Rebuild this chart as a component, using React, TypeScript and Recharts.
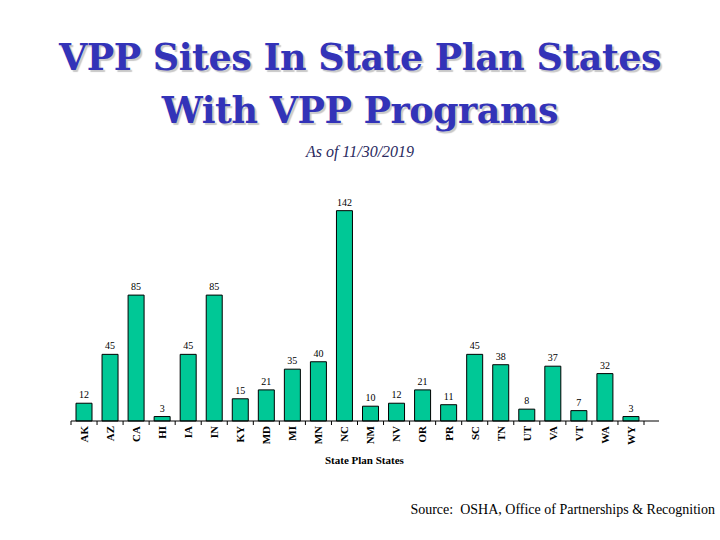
import { BarChart, Bar, XAxis, YAxis, LabelList } from 'recharts';

const states = ['AK', 'AZ', 'CA', 'HI', 'IA', 'IN', 'KY', 'MD', 'MI', 'MN', 'NC', 'NM', 'NV', 'OR', 'PR', 'SC', 'TN', 'UT', 'VA', 'VT', 'WA', 'WY'];
const sites = [12, 45, 85, 3, 45, 85, 15, 21, 35, 40, 142, 10, 12, 21, 11, 45, 38, 8, 37, 7, 32, 3];

const data = states.map((s, i) => ({ name: s, value: sites[i] }));

const SERIF = "'Liberation Serif', 'Times New Roman', serif";
const TITLE_FONT = "'DejaVu Serif', serif";

// plot area: x 71..659 with 15px right padding on the category axis
const PLOT_LEFT = 71;
const PLOT_RIGHT = 61;
const AXIS_PAD = 15;
const STEP = (720 - PLOT_LEFT - PLOT_RIGHT - AXIS_PAD) / states.length;

const StateTick = (props: any) => {
  const { x, y, payload, index } = props;
  const top = y - 8; // axis line sits a bit above the tick origin
  return (
    <g>
      <line x1={x - STEP / 2} x2={x - STEP / 2} y1={top} y2={top + 4} stroke="#000" />
      {index === states.length - 1 && (
        <line x1={x + STEP / 2} x2={x + STEP / 2} y1={top} y2={top + 4} stroke="#000" />
      )}
      <text
        transform={`translate(${x},${top + 5}) rotate(-90)`}
        textAnchor="end"
        dy="0.35em"
        style={{ fontFamily: SERIF, fontWeight: 'bold', fontSize: 11 }}
        fill="#000"
      >
        {payload.value}
      </text>
    </g>
  );
};

const App = () => {
  return (
    <div style={{ position: 'absolute', left: 0, top: 0, width: 720, height: 540, background: '#fff' }}>
      <div
        style={{
          position: 'absolute', left: 0, top: 32, width: 720, textAlign: 'center',
          fontFamily: TITLE_FONT, fontWeight: 'bold', fontSize: 36.5, lineHeight: '52.6px',
          letterSpacing: -0.5, color: '#3333B8', textShadow: '2px 2px 1px #c8c8c8',
        }}
      >
        VPP Sites In State Plan States<br />With VPP Programs
      </div>
      <div
        style={{
          position: 'absolute', left: 0, top: 144, width: 720, textAlign: 'center',
          fontFamily: SERIF, fontStyle: 'italic', fontSize: 16, lineHeight: '16px', color: '#2a2a60',
        }}
      >
        As of 11/30/2019
      </div>
      <BarChart
        width={720}
        height={540}
        data={data}
        margin={{ top: 184, right: PLOT_RIGHT, bottom: 79, left: PLOT_LEFT }}
        barSize={16}
      >
        <XAxis
          dataKey="name"
          interval={0}
          tick={<StateTick />}
          tickLine={false}
          axisLine={{ stroke: '#000' }}
          padding={{ left: 0, right: AXIS_PAD }}
          height={40}
        />
        <YAxis hide domain={[0, 160]} width={0} />
        <Bar dataKey="value" fill="#00C896" stroke="#000" strokeWidth={1} isAnimationActive={false}>
          <LabelList dataKey="value" position="top" offset={5} style={{ fontFamily: SERIF, fontSize: 10 }} fill="#000" />
        </Bar>
      </BarChart>
      <div
        style={{
          position: 'absolute', left: 325, top: 454, fontFamily: SERIF,
          fontWeight: 'bold', fontSize: 11, color: '#000',
        }}
      >
        State Plan States
      </div>
      <div
        style={{
          position: 'absolute', right: 5, top: 502, fontFamily: SERIF,
          fontSize: 14, color: '#000', whiteSpace: 'pre',
        }}
      >
        {'Source:  OSHA, Office of Partnerships & Recognition'}
      </div>
    </div>
  );
};

export default App;
